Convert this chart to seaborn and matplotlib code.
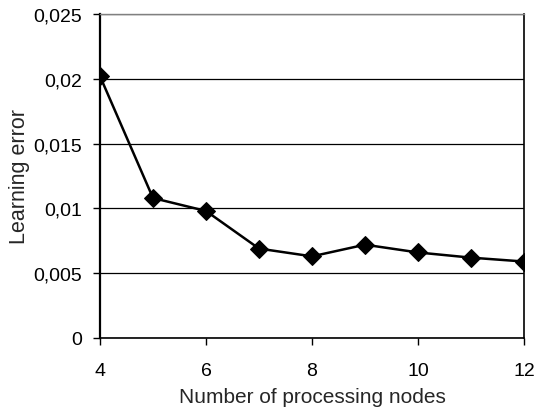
import matplotlib
matplotlib.use("Agg")
import matplotlib.pyplot as plt
import seaborn as sns
import pandas as pd
from matplotlib.ticker import FuncFormatter, MultipleLocator

nodes = [4, 5, 6, 7, 8, 9, 10, 11, 12]
errors = [0.0202, 0.0108, 0.0098, 0.0069, 0.0063, 0.0072, 0.0066, 0.0062, 0.0059]

sns.set_style("white")
plt.rcParams['font.family'] = ['Liberation Sans', 'DejaVu Sans']

df = pd.DataFrame({"nodes": nodes, "error": errors})

fig = plt.figure(figsize=(5.37, 4.10), dpi=100)
ax = fig.add_axes([100/537, 1-339/410, (524-100)/537, (339-15)/410])

sns.lineplot(data=df, x="nodes", y="error", ax=ax, color="black", marker="D",
             markersize=9, linewidth=1.8, markeredgecolor="black")

ax.set_xlim(4, 12)
ax.set_ylim(0, 0.025)
ax.xaxis.set_major_locator(MultipleLocator(2))
ax.yaxis.set_major_locator(MultipleLocator(0.005))

def fmt(v, pos):
    s = ("%.3f" % v).rstrip("0").rstrip(".")
    if s == "":
        s = "0"
    return s.replace(".", ",")
ax.yaxis.set_major_formatter(FuncFormatter(fmt))

ax.grid(axis="y", color="black", linewidth=0.9)
ax.set_axisbelow(True)
for side in ["left", "bottom", "right"]:
    ax.spines[side].set_visible(True)
    ax.spines[side].set_color("black")
    ax.spines[side].set_linewidth(1.2)
ax.spines["top"].set_visible(True)
ax.spines["top"].set_color("#808080")
ax.spines["top"].set_linewidth(1.0)
ax.spines["left"].set_linewidth(1.6)

ax.tick_params(axis="both", which="major", direction="out", length=5, width=1,
               color="black", labelsize=14, labelcolor="black", left=True, bottom=True)
ax.tick_params(axis="y", pad=8)
ax.tick_params(axis="x", pad=12)
ax.set_xlabel("Number of processing nodes", fontsize=15, labelpad=6)
ax.set_ylabel("Learning error", fontsize=15.5, labelpad=2)

fig.savefig("out.png", dpi=100)
